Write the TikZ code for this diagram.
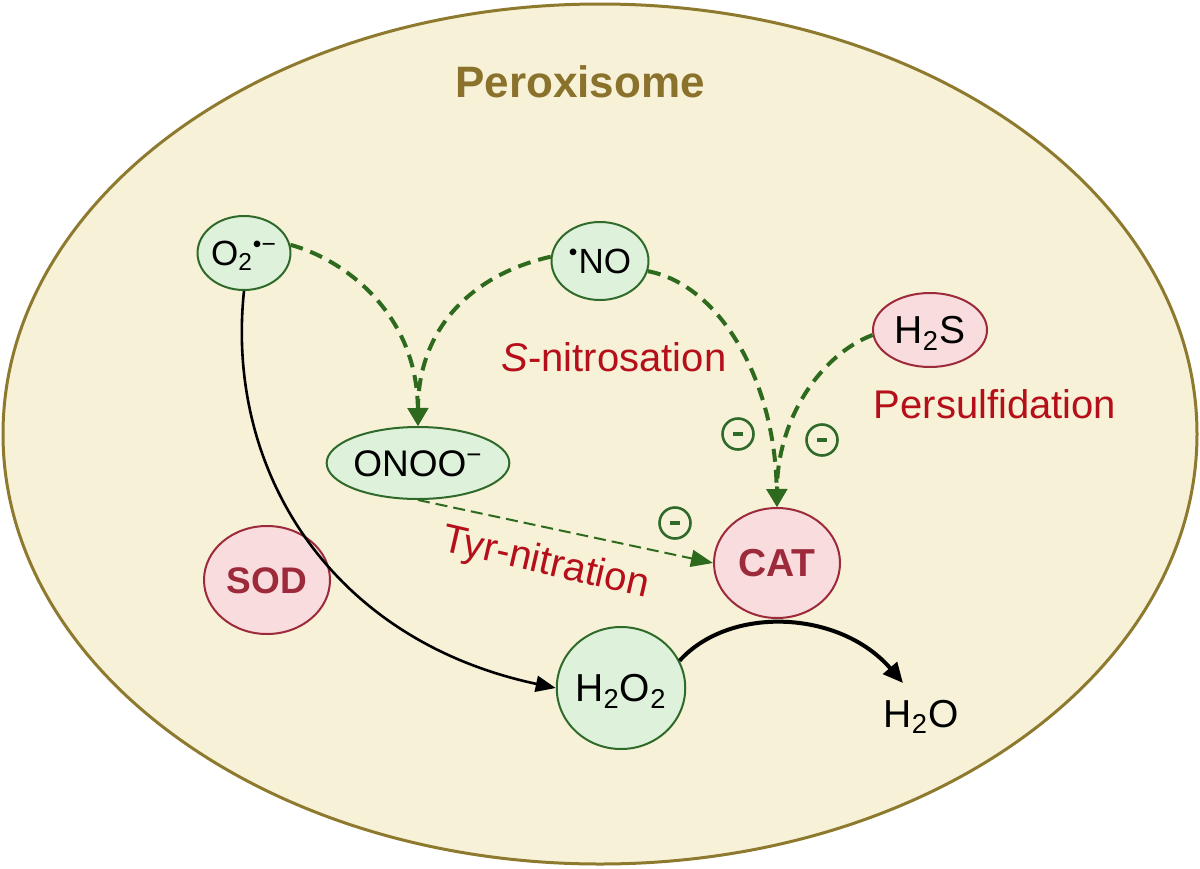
\documentclass[tikz,border=0pt]{standalone}
\usepackage{fontspec}
\setmainfont{Liberation Sans}
\usetikzlibrary{shapes.geometric,arrows.meta}
\definecolor{elfill}{HTML}{F6F1D7}
\definecolor{elline}{HTML}{8E7A2E}
\definecolor{titlecol}{HTML}{8B722C}
\definecolor{grnfill}{HTML}{DEF1DB}
\definecolor{grnline}{HTML}{2F6A2A}
\definecolor{grnarrow}{HTML}{2E6A1E}
\definecolor{rdfill}{HTML}{F9DCDD}
\definecolor{rdline}{HTML}{9C2A3A}
\definecolor{rdtext}{HTML}{B50F1A}
\begin{document}
\begin{tikzpicture}[x=0.5pt,y=-0.5pt,
  every node/.style={inner sep=0pt},
  gn/.style={ellipse, draw=grnline, fill=grnfill, line width=1pt, font=\fontsize{#1}{#1}\selectfont, text height={0.716*#1pt}, text depth=0pt},
  rn/.style={ellipse, draw=rdline, fill=rdfill, line width=1pt, font=\fontsize{#1}{#1}\selectfont, text height={0.716*#1pt}, text depth=0pt},
  enz/.style={rn=#1, font=\bfseries\fontsize{#1}{#1}\selectfont, text=rdline},
  lbl/.style={text=rdtext, font=\fontsize{20}{20}\selectfont, anchor=base},
  minus/.style={circle, draw=grnline, text=grnline, line width=1.3pt, minimum size=15.5pt, text height=0.9pt, text depth=0.9pt},
  gdash/.style={draw=grnarrow, line width=2pt, dash pattern=on 6.5pt off 4pt, -{Triangle[width=10pt,length=9pt]}},
  tdash/.style={draw=grnarrow, line width=1pt, dash pattern=on 6pt off 3pt, -{Triangle[width=8.5pt,length=11pt]}},
  blk/.style={draw=black, line width=1.3pt, -{Triangle[width=8pt,length=10pt]}},
  blkb/.style={draw=black, line width=2pt, -{Triangle[width=9pt,length=10pt]}}
]
\useasboundingbox (0,0) rectangle (1200,868);
\fill[white] (0,0) rectangle (1200,868);
\node[ellipse, draw=elline, fill=elfill, line width=1.5pt, minimum width=597pt, minimum height=430pt] (perox) at (600,434) {};
\node[font=\bfseries\fontsize{22}{22}\selectfont, text=titlecol, anchor=base] (title) at (580,97) {Peroxisome};

% species
\node[gn=17.5, minimum width=44pt, minimum height=37pt] (o2) at (244,253) {O\textsubscript{2}\textsuperscript{•−}};
\node[gn=17.5, minimum width=48.5pt, minimum height=39pt] (no) at (600,261) {\textsuperscript{•}NO};
\node[rn=19.5, minimum width=57pt, minimum height=37pt] (h2s) at (930,330) {H\textsubscript{2}S};
\node[gn=18.5, minimum width=85pt, minimum height=36pt] (onoo) at (418,463) {ONOO\textsuperscript{−}};
\node[enz=19.5, minimum width=63pt, minimum height=55pt] (cat) at (777,563) {CAT};
\node[enz=18.5, minimum width=63pt, minimum height=54pt] (sod) at (267,580) {SOD};
\node[gn=19.5, minimum width=63pt, minimum height=61pt] (h2o2) at (621,688) {H\textsubscript{2}O\textsubscript{2}};
\node[font=\fontsize{19.5}{19.5}\selectfont, anchor=base] (h2o) at (921,727) {H\textsubscript{2}O};
\coordinate (h2otip) at (903,683);

% labels
\node[lbl] (snit) at (614,371) {\textit{S}-nitrosation};
\node[lbl] (pers) at (995,418) {Persulfidation};
\node[lbl, rotate=-13] (tyr) at (543,574) {Tyr-nitration};

% inhibition marks
\node[minus] (m1) at (738,434) {\rule[-0.9pt]{5pt}{1.8pt}};
\node[minus] (m2) at (822,440) {\rule[-0.9pt]{5pt}{1.8pt}};
\node[minus] (m3) at (675,523) {\rule[-0.9pt]{5pt}{1.8pt}};

% connectors
\draw[gdash] (o2.10) .. controls (340,258) and (417,310) .. (onoo.north);
\draw[gdash] (no.175) .. controls (470,275) and (418,330) .. (onoo.north);
\draw[gdash] (no.-12) .. controls (720,285) and (775,380) .. (cat.north);
\draw[gdash] (h2s.185) .. controls (820,355) and (777,420) .. (cat.north);
\draw[tdash] (onoo.south) -- (cat.west);
\draw[blk] (o2.south) .. controls (225,470) and (330,640) .. (h2o2.west);
\draw[blkb] (h2o2.25) .. controls (730,605) and (840,610) .. (h2otip);
\end{tikzpicture}
\end{document}
